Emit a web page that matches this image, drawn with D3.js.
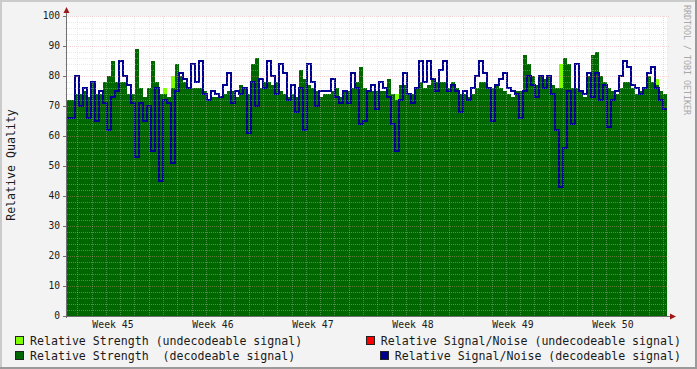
<!DOCTYPE html>
<html>
<head>
<meta charset="utf-8">
<script src="https://cdn.jsdelivr.net/npm/d3@7"></script>
<style>
  html, body { margin: 0; padding: 0; background: #f3f3f3; }
  svg { display: block; }
  text { font-family: "DejaVu Sans Mono", monospace; white-space: pre; }
</style>
</head>
<body>
<svg id="chart" width="697" height="369"></svg>
<script>
// relative strength, decodeable signal (one value per bin)
const strengthDecoded = [
  72,72,74,74,75,73,78,74,74,78, 80,85,78,78,78,74,74,89,76,73,
  76,85,78,74,74,73,76,84,80,78, 76,76,76,76,75,72,73,73,73,74,
  75,75,73,77,76,74,84,86,76,78, 78,77,78,75,74,73,74,73,82,79,
  77,76,75,73,74,74,75,76,73,75, 75,76,78,83,76,75,75,75,75,75,
  79,74,72,77,77,74,74,76,78,76, 77,79,78,78,78,76,78,76,74,74,
  73,74,76,78,78,76,76,77,76,75, 74,73,75,75,87,84,80,77,80,79,
  80,77,76,76,86,84,76,76,75,73, 80,87,88,80,78,76,75,74,76,78,
  78,76,74,75,76,80,78,77,75,74
];
// relative signal/noise, decodeable signal
const snrDecoded = [
  66,66,80,70,76,66,78,65,75,71, 62,73,75,85,80,77,71,53,71,65,
  70,55,76,45,72,71,51,75,81,79, 76,84,78,85,74,72,75,74,73,77,
  81,71,75,74,76,61,78,70,79,76, 85,80,74,84,81,72,77,68,76,62,
  84,78,70,75,75,75,79,73,71,75, 71,81,76,64,65,75,77,69,78,76,
  73,64,55,72,81,74,71,76,85,78, 85,79,75,82,85,75,77,75,68,75,
  72,76,80,85,81,76,65,77,79,81, 76,75,74,66,75,80,77,73,80,76,
  80,74,62,43,56,75,64,84,75,74, 81,73,81,72,77,63,72,75,80,85,
  83,77,76,74,76,81,83,76,72,69
];
// undecodeable signal: [bin, value] (only where present)
const strengthUndecoded = [[24, 76], [26, 80], [82, 74], [123, 84], [147, 79]];
const snrUndecoded = [];

const yTickValues = [0, 10, 20, 30, 40, 50, 60, 70, 80, 90, 100];
const weekLabels = ["Week 45", "Week 46", "Week 47", "Week 48", "Week 49", "Week 50"];

const legendLeft = [
  {label: "Relative Strength (undecodeable signal)", color: "#80ff00"},
  {label: "Relative Strength  (decodeable signal)", color: "#006600"}
];
const legendRight = [
  {label: "Relative Signal/Noise (undecodeable signal)", color: "#ff0000"},
  {label: "Relative Signal/Noise (decodeable signal)", color: "#000090"}
];

const W = 697, H = 369;
const plot = {left: 67, right: 667, top: 16, bottom: 316};

const weekStart = Date.UTC(2010, 10, 8);          // Monday of ISO week 45
const tStart = new Date(weekStart + 0.28 * 864e5);
const tEnd = new Date(+tStart + 42 * 864e5);
const step = 42 * 864e5 / strengthDecoded.length;
const timeAt = i => new Date(+tStart + i * step);

const x = d3.scaleUtc().domain([tStart, tEnd]).range([plot.left, plot.right]);
const y = d3.scaleLinear().domain([0, 100]).range([plot.bottom, plot.top]);

const svg = d3.select("#chart");

// frame
svg.append("rect").attr("width", W).attr("height", H).attr("fill", "#f3f3f3");
svg.append("rect").attr("x", 0).attr("y", 0).attr("width", W).attr("height", 2).attr("fill", "#cbcbcb");
svg.append("rect").attr("x", 0).attr("y", 0).attr("width", 2).attr("height", H).attr("fill", "#cbcbcb");
svg.append("rect").attr("x", W - 2).attr("y", 0).attr("width", 2).attr("height", H).attr("fill", "#9a9a9a");
svg.append("rect").attr("x", 0).attr("y", H - 2).attr("width", W).attr("height", 2).attr("fill", "#9a9a9a");

// canvas
svg.append("rect")
  .attr("x", plot.left).attr("y", plot.top)
  .attr("width", plot.right - plot.left).attr("height", plot.bottom - plot.top)
  .attr("fill", "#ffffff");

svg.append("clipPath").attr("id", "clip")
  .append("rect")
  .attr("x", plot.left).attr("y", plot.top)
  .attr("width", plot.right - plot.left).attr("height", plot.bottom - plot.top);

const g = svg.append("g").attr("clip-path", "url(#clip)");

// undecodeable strength (light green)
g.selectAll("rect.undec")
  .data(strengthUndecoded)
  .join("rect")
  .attr("class", "undec")
  .attr("x", d => x(timeAt(d[0])))
  .attr("width", d => x(timeAt(d[0] + 1)) - x(timeAt(d[0])))
  .attr("y", d => y(d[1]))
  .attr("height", d => y(0) - y(d[1]))
  .attr("fill", "#80ff00");

// decodeable strength (dark green area)
const stepPts = arr => arr.map((v, i) => [timeAt(i), v]).concat([[timeAt(arr.length), arr[arr.length - 1]]]);

g.append("path")
  .datum(stepPts(strengthDecoded))
  .attr("fill", "#006600")
  .attr("d", d3.area().curve(d3.curveStepAfter)
    .x(d => x(d[0])).y0(y(0)).y1(d => y(d[1])));

// grid
const grid = svg.append("g");
const minorY = d3.range(2, 100, 2).filter(v => v % 10 !== 0);
grid.selectAll("line.my").data(minorY).join("line")
  .attr("x1", plot.left - 2).attr("x2", plot.right + 2)
  .attr("y1", d => Math.round(y(d)) + 0.5).attr("y2", d => Math.round(y(d)) + 0.5)
  .attr("stroke", "rgba(200,200,200,0.4)").attr("stroke-dasharray", "1,1");

const days = d3.utcDay.range(tStart, tEnd).filter(d => d.getUTCDay() !== 1);
grid.selectAll("line.mx").data(days).join("line")
  .attr("x1", d => Math.round(x(d)) + 0.5).attr("x2", d => Math.round(x(d)) + 0.5)
  .attr("y1", plot.top).attr("y2", plot.bottom + 2)
  .attr("stroke", "rgba(200,200,200,0.4)").attr("stroke-dasharray", "1,1");

grid.selectAll("line.My").data(yTickValues.slice(1)).join("line")
  .attr("x1", plot.left - 3).attr("x2", plot.right + 3)
  .attr("y1", d => Math.round(y(d)) + 0.5).attr("y2", d => Math.round(y(d)) + 0.5)
  .attr("stroke", "rgba(230,150,150,0.4)").attr("stroke-dasharray", "1,1");

const mondays = d3.utcMonday.range(tStart, tEnd);
grid.selectAll("line.Mx").data(mondays).join("line")
  .attr("x1", d => Math.round(x(d)) + 0.5).attr("x2", d => Math.round(x(d)) + 0.5)
  .attr("y1", plot.top).attr("y2", plot.bottom + 3)
  .attr("stroke", "rgba(230,150,150,0.4)").attr("stroke-dasharray", "1,1");

// signal/noise line (blue)
g.append("path")
  .datum(stepPts(snrDecoded))
  .attr("fill", "none")
  .attr("stroke", "#000090")
  .attr("stroke-width", 2)
  .attr("d", d3.line().curve(d3.curveStepAfter)
    .x(d => x(d[0])).y(d => y(d[1])));

// axes
svg.append("line")
  .attr("x1", plot.left - 0.5).attr("x2", plot.left - 0.5)
  .attr("y1", plot.bottom + 2).attr("y2", 10)
  .attr("stroke", "#707070");
svg.append("line")
  .attr("x1", plot.left - 4).attr("x2", plot.right + 4)
  .attr("y1", plot.bottom + 0.5).attr("y2", plot.bottom + 0.5)
  .attr("stroke", "#707070");
svg.append("path")
  .attr("d", `M${plot.left - 3.5},13 L${plot.left + 2.5},13 L${plot.left - 0.5},7 Z`)
  .attr("fill", "#a01818");
svg.append("path")
  .attr("d", `M${plot.right + 3},${plot.bottom - 2.5} L${plot.right + 3},${plot.bottom + 3.5} L${plot.right + 9},${plot.bottom + 0.5} Z`)
  .attr("fill", "#a01818");

svg.selectAll("line.ytick").data(yTickValues).join("line")
  .attr("x1", plot.left - 4).attr("x2", plot.left)
  .attr("y1", d => Math.round(y(d)) + 0.5).attr("y2", d => Math.round(y(d)) + 0.5)
  .attr("stroke", "#707070");

// y labels
svg.selectAll("text.ylab").data(yTickValues).join("text")
  .attr("x", 60).attr("y", d => y(d)).attr("dy", "0.36em")
  .attr("text-anchor", "end")
  .attr("font-size", "9.6px").attr("fill", "#1a1a1a")
  .text(d => d);

// week labels, centred in each week
svg.selectAll("text.xlab").data(weekLabels).join("text")
  .attr("x", (d, i) => x(d3.utcHour.offset(new Date(weekStart), i * 168 + 84)))
  .attr("y", 328)
  .attr("text-anchor", "middle")
  .attr("font-size", "9.8px").attr("fill", "#1a1a1a")
  .text(d => d);

// axis title
svg.append("text")
  .attr("transform", "translate(15,165) rotate(-90)")
  .attr("text-anchor", "middle")
  .attr("font-size", "11.6px").attr("fill", "#1a1a1a")
  .text("Relative Quality");

// watermark
svg.append("text")
  .attr("transform", "translate(684,5) rotate(90)")
  .attr("text-anchor", "start")
  .attr("font-size", "8.3px").attr("fill", "#a8a8a8")
  .text("RRDTOOL / TOBI OETIKER");

// legend
const rowY = [345, 360];
legendLeft.forEach((d, i) => {
  svg.append("rect")
    .attr("x", 15.5).attr("y", rowY[i] - 8.5).attr("width", 8).attr("height", 8)
    .attr("fill", d.color).attr("stroke", "#222");
  svg.append("text")
    .attr("x", 30).attr("y", rowY[i])
    .attr("xml:space", "preserve")
    .attr("font-size", "11.6px").attr("fill", "#1a1a1a")
    .text(d.label);
});
legendRight.forEach((d, i) => {
  const t = svg.append("text")
    .attr("x", 681).attr("y", rowY[i])
    .attr("text-anchor", "end")
    .attr("font-size", "11.6px").attr("fill", "#1a1a1a")
    .text(d.label);
  const start = 681 - t.node().getComputedTextLength();
  svg.append("rect")
    .attr("x", Math.round(start) - 14.5).attr("y", rowY[i] - 8.5).attr("width", 8).attr("height", 8)
    .attr("fill", d.color).attr("stroke", "#222");
});
</script>
</body>
</html>
